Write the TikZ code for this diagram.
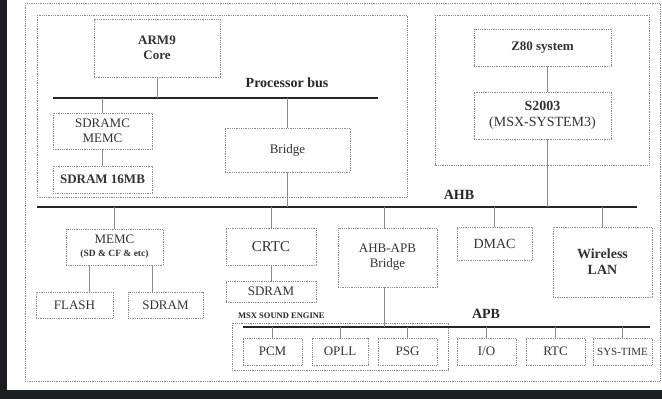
\documentclass[tikz,border=0pt]{standalone}
\usepackage{fontspec}
\setmainfont{Liberation Serif}
\definecolor{ink}{HTML}{333333}
\definecolor{rule}{HTML}{8A8A8A}
\definecolor{scan}{HTML}{1C1F22}
\usetikzlibrary{calc}

\begin{document}
\begin{tikzpicture}[x=1pt, y=-1pt,
  box/.style={draw=rule, densely dotted, line width=0.8pt, inner sep=0pt,
              align=center, text=ink, font=\fontsize{13}{15}\selectfont},
  bbox/.style={box, font=\fontsize{13}{15}\selectfont\bfseries},
  frame/.style={draw=rule, densely dotted, line width=0.8pt},
  bus/.style={line width=2.6pt, black!85},
  link/.style={draw=rule, line width=0.7pt},
  lbl/.style={text=black!85, font=\fontsize{14}{16}\selectfont\bfseries, inner sep=0pt},
]
% page and scan edges
\fill[white] (0,0) rectangle (662,399);
\fill[scan] (0,0) rectangle (7,399);
\fill[scan] (0,390) rectangle (662,399);

% frames
\draw[frame] (25,3) rectangle (660,381);
\draw[frame] (37,15) rectangle (407,197);
\draw[frame] (435,15) rectangle (649,165);
\draw[frame] (232,323) rectangle (448,370);

% buses
\coordinate (pbW) at (53,98);
\coordinate (pbE) at (378,98);
\coordinate (ahbW) at (37,207);
\coordinate (ahbE) at (637,207);
\coordinate (apbW) at (243,327);
\coordinate (apbE) at (650,327);
\draw[bus] (pbW) -- (pbE);
\draw[bus] (ahbW) -- (ahbE);
\draw[bus] (apbW) -- (apbE);
\node[lbl] (pbus) at (287,83) {Processor bus};
\node[lbl] (ahb) at (459,195) {AHB};
\node[lbl] (apb) at (486,314) {APB};
\node[lbl, anchor=west, font=\fontsize{8.5}{10}\selectfont\bfseries] (msx) at (238,316) {MSX SOUND ENGINE};

% processor side
\node[bbox, minimum width=126pt, minimum height=58pt] (arm) at (157,48) {ARM9\\Core};
\node[box, minimum width=99pt, minimum height=36pt] (sdramc) at (102.5,131) {SDRAMC\\MEMC};
\node[bbox, minimum width=99pt, minimum height=27pt] (sd16) at (102.5,179.5) {SDRAM 16MB};
\node[box, minimum width=125pt, minimum height=44pt] (brg) at (287.5,150) {Bridge};

% z80 side
\node[bbox, minimum width=137pt, minimum height=37pt] (z80) at (542.5,47.5) {Z80 system};
\node[box, minimum width=137pt, minimum height=47pt, font=\fontsize{14}{16}\selectfont] (s2003) at (542.5,115.5) {\textbf{S2003}\\(MSX-SYSTEM3)};

% ahb devices
\node[box, minimum width=97pt, minimum height=36pt] (memc) at (114.5,247) {MEMC\\[-2pt]{\fontsize{9.5}{11}\selectfont\bfseries (SD \& CF \& etc)}};
\node[box, minimum width=77pt, minimum height=26pt] (flash) at (74.5,305) {FLASH};
\node[box, minimum width=75pt, minimum height=26pt] (sdram) at (165.5,305) {SDRAM};
\node[box, minimum width=90pt, minimum height=37pt, font=\fontsize{15}{17}\selectfont] (crtc) at (271,246.5) {CRTC};
\node[box, minimum width=90pt, minimum height=21pt] (vram) at (271,291.5) {SDRAM};
\node[box, minimum width=99pt, minimum height=59pt] (ahbapb) at (387.5,257.5) {AHB-APB\\Bridge};
\node[box, minimum width=75pt, minimum height=33pt, font=\fontsize{14}{16}\selectfont] (dmac) at (494.5,243.5) {DMAC};
\node[bbox, minimum width=99pt, minimum height=70pt, font=\fontsize{14}{16}\selectfont\bfseries] (wlan) at (602.5,262) {Wireless\\LAN};

% apb devices
\node[box, minimum width=59pt, minimum height=27pt] (pcm) at (272.5,351.5) {PCM};
\node[box, minimum width=56pt, minimum height=27pt] (opll) at (340,351.5) {OPLL};
\node[box, minimum width=59pt, minimum height=27pt] (psg) at (407.5,351.5) {PSG};
\node[box, minimum width=59pt, minimum height=27pt] (io) at (486.5,351.5) {I/O};
\node[box, minimum width=59pt, minimum height=27pt] (rtc) at (555.5,351.5) {RTC};
\node[box, minimum width=59pt, minimum height=27pt, font=\fontsize{11}{13}\selectfont] (systime) at (622.5,351.5) {SYS-TIME};

% connectors
\draw[link] (arm.south) -- (arm.south |- pbW);
\draw[link] (sdramc.north) -- (sdramc.north |- pbW);
\draw[link] (sdramc.south) -- (sd16.north);
\draw[link] (brg.north) -- (brg.north |- pbW);
\draw[link] (brg.south) -- (brg.south |- ahbW);
\draw[link] ([xshift=5pt]z80.south) -- ([xshift=5pt]s2003.north);
\draw[link] ([xshift=5pt]s2003.south) -- ([xshift=5pt]s2003.south |- ahbW);
\draw[link] (memc.north) -- (memc.north |- ahbW);
\draw[link] ([xshift=15pt]flash.north) -- ([xshift=15pt]flash.north |- memc.south);
\draw[link] ([xshift=-13pt]sdram.north) -- ([xshift=-13pt]sdram.north |- memc.south);
\draw[link] (crtc.north) -- (crtc.north |- ahbW);
\draw[link] (crtc.south) -- (vram.north);
\draw[link] ([xshift=-3pt]ahbapb.north) -- ([xshift=-3pt]ahbapb.north |- ahbW);
\draw[link] ([xshift=-3pt]ahbapb.south) -- ([xshift=-3pt]ahbapb.south |- apbW);
\draw[link] (dmac.north) -- (dmac.north |- ahbW);
\draw[link] (wlan.north) -- (wlan.north |- ahbW);
\foreach \dev in {pcm, opll, psg, io, rtc, systime}
  \draw[link] (\dev.north) -- (\dev.north |- apbW);
\end{tikzpicture}
\end{document}
